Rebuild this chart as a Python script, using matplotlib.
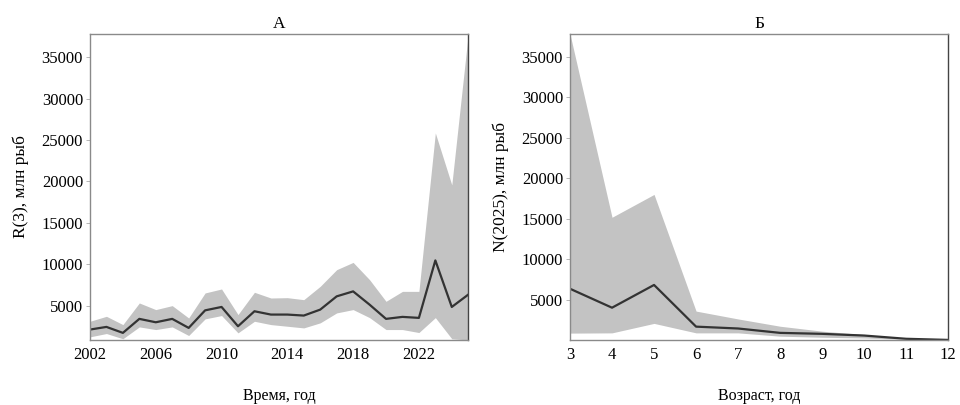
import matplotlib
matplotlib.use("Agg")
import matplotlib.pyplot as plt

plt.rcParams['font.family'] = ['Liberation Serif', 'DejaVu Serif']

# Recruitment R(3) by year, with confidence band
years = list(range(2002, 2026))
r3_mid = [2110, 2430, 1710, 3400, 2990, 3400, 2310, 4430, 4840, 2510, 4320, 3920,
          3920, 3800, 4520, 6120, 6720, 5120, 3400, 3640, 3520, 10460, 4840, 6330]
r3_low = [1230, 1630, 1000, 2430, 2110, 2430, 1390, 3400, 3800, 1710, 3110, 2710,
          2510, 2310, 2920, 4120, 4520, 3550, 2110, 2110, 1750, 3550, 1000, 850]
r3_high = [3110, 3710, 2710, 5320, 4520, 5000, 3510, 6530, 7010, 3920, 6610, 5920,
           5960, 5720, 7330, 9340, 10220, 8130, 5520, 6720, 6720, 25850, 19580, 37800]

# Numbers at age in 2025, with confidence band
ages = [3, 4, 5, 6, 7, 8, 9, 10, 11, 12]
n_mid = [6330, 3990, 6800, 1650, 1420, 880, 760, 550, 150, 10]
n_low = [850, 880, 2050, 880, 880, 470, 340, 250, 80, 0]
n_high = [37800, 15160, 17980, 3570, 2600, 1700, 1090, 670, 220, 40]

year_ticks = [2002, 2006, 2010, 2014, 2018, 2022]
y_ticks = [5000, 10000, 15000, 20000, 25000, 30000, 35000]

band_color = '#c3c3c3'
line_color = '#333333'
spine_color = '#8a8a8a'

fig = plt.figure(figsize=(9.6, 4.05), dpi=100)
ax1 = fig.add_axes([0.09375, 0.1605, 0.394, 0.7556])
ax2 = fig.add_axes([0.59375, 0.1605, 0.394, 0.7556])

ax1.fill_between(years, r3_low, r3_high, color=band_color, linewidth=0)
ax1.plot(years, r3_mid, color=line_color, linewidth=1.6)
ax1.set_xticks(year_ticks)
ax1.set_title('А', fontsize=12.5, pad=4)
ax1.set_xlabel('Время, год', fontsize=11.5, labelpad=18)
ax1.set_ylabel('R(3), млн рыб', fontsize=12.5, labelpad=9)

ax2.fill_between(ages, n_low, n_high, color=band_color, linewidth=0)
ax2.plot(ages, n_mid, color=line_color, linewidth=1.6)
ax2.set_xticks(ages)
ax2.set_title('Б', fontsize=12.5, pad=4)
ax2.set_xlabel('Возраст, год', fontsize=11.5, labelpad=18)
ax2.set_ylabel('N(2025), млн рыб', fontsize=12.5, labelpad=9)

for ax in (ax1, ax2):
    ax.margins(x=0, y=0)
    ax.set_yticks(y_ticks)
    ax.tick_params(axis='y', length=3, width=0.6, color='#aaaaaa', labelsize=12, pad=2)
    ax.tick_params(axis='x', length=0, labelsize=12, pad=5)
    for sp in ax.spines.values():
        sp.set_color(spine_color)
        sp.set_linewidth(1.0)
    ax.spines['right'].set_color('#444444')

fig.savefig('out.png', dpi=100)
